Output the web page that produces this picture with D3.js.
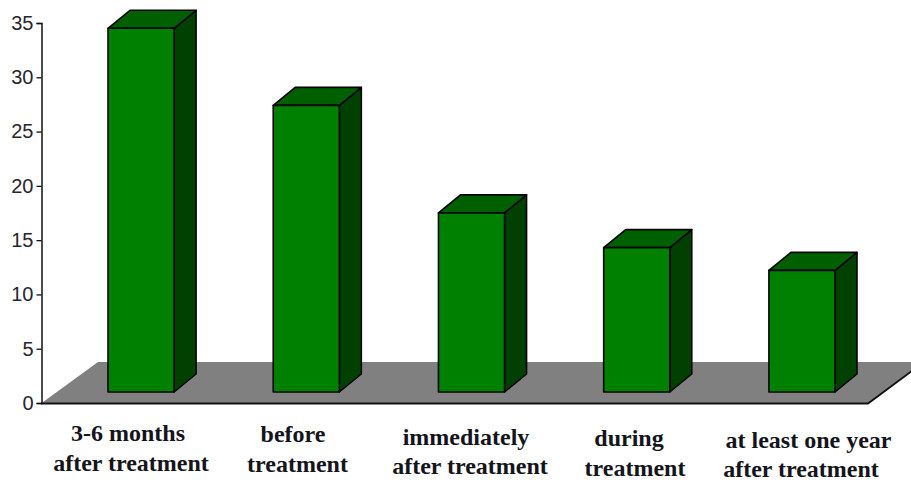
<!DOCTYPE html>
<html>
<head>
<meta charset="utf-8">
<script src="https://cdn.jsdelivr.net/npm/d3@7/dist/d3.min.js"></script>
<style>
html,body{margin:0;padding:0;background:#fff;}
svg{display:block;}
</style>
</head>
<body>
<div id="chart"></div>
<script>
// Chart content
const categories = [
  ["3-6 months", "after treatment"],
  ["before", "treatment"],
  ["immediately", "after treatment"],
  ["during", "treatment"],
  ["at least one year", "after treatment"]
];
const values = [33.5, 26.4, 16.5, 13.3, 11.2];
const yTicks = [0, 5, 10, 15, 20, 25, 30, 35];

const W = 911, H = 483;
const svg = d3.select("#chart").append("svg").attr("width", W).attr("height", H);

const y = d3.scaleLinear().domain([0, 35]).range([403, 23]);
const x = d3.scaleBand().domain(d3.range(values.length)).range([108, 835]).paddingInner(0.6).paddingOuter(0);

// Oblique projection of the bar depth, and the lift of the bars off the front floor edge
const depthX = 22, depthY = 18, lift = 11;

// Floor plane
svg.append("path")
  .attr("d", "M41,403.5 L98,362 L924,362 L868,403.5 Z")
  .attr("fill", "#808080");
svg.append("path")
  .attr("d", "M41,403.5 L868,403.5 L924,362")
  .attr("fill", "none").attr("stroke", "#111").attr("stroke-width", 1.8);

// Value axis
const axis = svg.append("g").attr("transform", "translate(41.5,0)")
  .call(d3.axisLeft(y).tickValues(yTicks).tickSize(5).tickPadding(3));
axis.select(".domain").attr("stroke", "#111").attr("stroke-width", 1.5);
axis.selectAll(".tick line").attr("stroke", "#111").attr("stroke-width", 1.3);
axis.selectAll("text")
  .attr("font-family", "'Liberation Sans', Arial, sans-serif")
  .attr("font-size", 20)
  .attr("fill", "#26262e");

// Bars: front, top and side faces
const bars = svg.append("g").selectAll("g").data(values).join("g");
const base = y(0) - lift;

bars.append("path")
  .attr("d", (d, i) => {
    const l = x(i) + x.bandwidth(), t = y(d) - lift;
    return `M${l},${t} L${l + depthX},${t - depthY} L${l + depthX},${base - depthY} L${l},${base} Z`;
  })
  .attr("fill", "#004000");
bars.append("path")
  .attr("d", (d, i) => {
    const l = x(i), r = l + x.bandwidth(), t = y(d) - lift;
    return `M${l},${t} L${l + depthX},${t - depthY} L${r + depthX},${t - depthY} L${r},${t} Z`;
  })
  .attr("fill", "#006000");
bars.append("rect")
  .attr("x", (d, i) => x(i))
  .attr("y", d => y(d) - lift)
  .attr("width", x.bandwidth())
  .attr("height", d => base - (y(d) - lift))
  .attr("fill", "#008000");
bars.selectAll("path,rect")
  .attr("stroke", "#050505")
  .attr("stroke-width", 1.6)
  .attr("stroke-linejoin", "round");

// Category labels, placed by hand in two staggered lines
const labelX = [[128, 131], [293, 297.5], [466, 470], [629, 635], [808.5, 801]];
const labelY = [[441, 471], [442, 472], [445, 474], [446, 476], [448, 477]];
const labels = svg.append("g")
  .attr("font-family", "'Liberation Serif', 'Times New Roman', serif")
  .attr("font-weight", "bold")
  .attr("font-size", 24)
  .attr("fill", "#14141c")
  .attr("text-anchor", "middle");
categories.forEach((lines, i) => {
  lines.forEach((line, j) => {
    labels.append("text").attr("x", labelX[i][j]).attr("y", labelY[i][j]).text(line);
  });
});
</script>
</body>
</html>
